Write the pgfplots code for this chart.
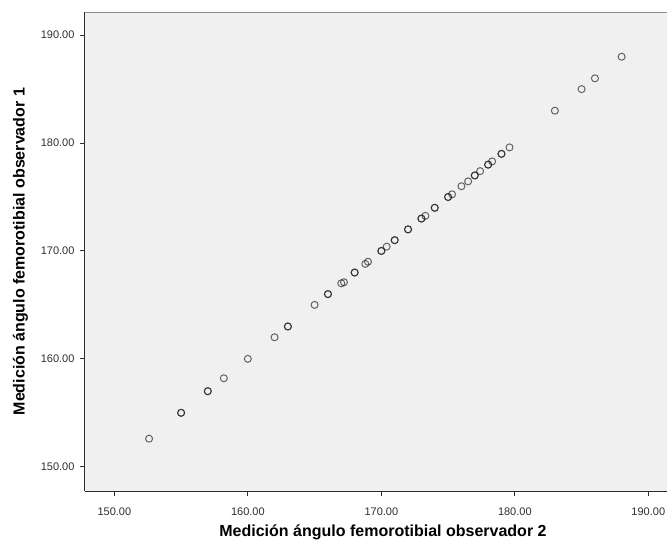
\documentclass[border=0pt]{standalone}
\usepackage{pgfplots}
\pgfplotsset{compat=1.18}
\usepackage{fontspec}
\setmainfont{Liberation Sans}
\definecolor{bgc}{HTML}{F0F0F0}
\definecolor{axc}{HTML}{2E2E2E}
\definecolor{topc}{HTML}{8C8C8C}
\definecolor{markc}{HTML}{1A1A1A}
\begin{document}
\begin{tikzpicture}
\begin{axis}[
  name=ax, at={(0,0)}, anchor=south west,
  scale only axis, width=582pt, height=478.7pt,
  xmin=147.8, xmax=191.4, ymin=147.75, ymax=192.12,
  axis x line*=bottom, axis y line*=left,
  axis line style={-, draw=axc, line width=1pt},
  axis background/.style={fill=bgc},
  xtick={150,160,170,180,190}, ytick={150,160,170,180,190},
  tick align=outside, major tick length=5pt,
  tick style={draw=axc, line width=1pt},
  /pgf/number format/assume math mode=true,
  /pgf/number format/.cd, fixed, fixed zerofill, precision=2, 1000 sep={},
  /pgfplots/.cd,
  tick label style={font=\fontsize{11}{13}\selectfont, text=axc},
  xticklabel style={anchor=north, yshift=-8pt},
  yticklabel style={anchor=east, xshift=-2pt},
  xlabel={Medición ángulo femorotibial observador 2},
  ylabel={Medición ángulo femorotibial observador 1},
  label style={font=\bfseries\fontsize{16}{19}\selectfont, text=black},
  xlabel style={at={(axis description cs:0.512,-0.0857)}, anchor=center},
  ylabel style={at={(axis description cs:-0.111,0.5)}, anchor=center},
  clip=false,
]
\addplot[only marks, mark=o, mark size=3.5pt,
  mark options={draw=markc, line width=1pt, draw opacity=0.66}]
coordinates {
(152.6,152.6)
(155.0,155.0) (155.0,155.0)
(157.0,157.0) (157.0,157.0)
(158.2,158.2)
(160.0,160.0)
(162.0,162.0)
(163.0,163.0) (163.0,163.0)
(165.0,165.0)
(166.0,166.0) (166.0,166.0)
(167.0,167.0)
(167.2,167.1)
(168.0,168.0) (168.0,168.0)
(168.8,168.8)
(169.0,169.0)
(170.0,170.0) (170.0,170.0)
(170.4,170.4)
(171.0,171.0) (171.0,171.0)
(172.0,172.0) (172.0,172.0)
(173.0,173.0) (173.0,173.0)
(173.3,173.25)
(174.0,174.0) (174.0,174.0)
(175.0,175.0) (175.0,175.0)
(175.3,175.25)
(176.0,176.0)
(176.5,176.45)
(177.0,177.0) (177.0,177.0)
(177.4,177.4)
(178.0,178.0) (178.0,178.0)
(178.3,178.3)
(179.0,179.0) (179.0,179.0)
(179.6,179.6)
(183.0,183.0)
(185.0,185.0)
(186.0,186.0)
(188.0,188.0)
};
\draw[draw=topc, line width=1.3pt] (rel axis cs:0,1) -- (rel axis cs:1,1);
\end{axis}
\pgfresetboundingbox
\path ([shift={(-85pt,-51pt)}]ax.south west) rectangle ([shift={(0pt,12.3pt)}]ax.north east);
\end{tikzpicture}
\end{document}
